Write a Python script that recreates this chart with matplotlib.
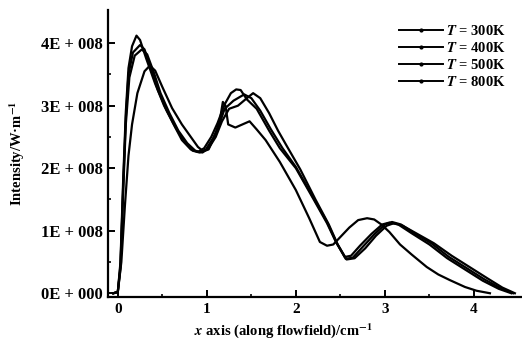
import numpy as np
import matplotlib
matplotlib.use("Agg")
import matplotlib.pyplot as plt
from matplotlib.lines import Line2D

plt.rcParams['font.family'] = ['Liberation Serif', 'DejaVu Serif']
plt.rcParams['font.weight'] = 'bold'
plt.rcParams['mathtext.fontset'] = 'stix'

# curvas (x en cm, intensidad en W/m)
x300 = [-0.05, 0.0, 0.03, 0.06, 0.09, 0.12, 0.16, 0.21, 0.25, 0.32, 0.42, 0.52, 0.62, 0.72, 0.82, 0.9, 0.97,
        1.05, 1.12, 1.2, 1.27, 1.33, 1.38, 1.45, 1.56, 1.7, 1.82, 2.0, 2.2, 2.35, 2.45, 2.55, 2.62, 2.72, 2.85,
        2.97, 3.05, 3.15, 3.3, 3.5, 3.7, 3.9, 4.1, 4.28, 4.42]
y300 = [0.0, 0.02, 0.5, 1.8, 2.9, 3.6, 3.95, 4.12, 4.05, 3.75, 3.35, 3.0, 2.72, 2.45, 2.3, 2.26, 2.32,
        2.5, 2.72, 3.02, 3.2, 3.26, 3.25, 3.1, 2.95, 2.6, 2.32, 2.0, 1.5, 1.12, 0.82, 0.58, 0.6, 0.76, 0.95,
        1.1, 1.13, 1.1, 0.96, 0.78, 0.56, 0.38, 0.2, 0.07, 0.0]

x400 = [-0.05, 0.0, 0.03, 0.06, 0.09, 0.12, 0.17, 0.25, 0.3, 0.36, 0.45, 0.55, 0.65, 0.75, 0.84, 0.92, 0.99,
        1.07, 1.14, 1.2, 1.3, 1.42, 1.5, 1.6, 1.72, 1.85, 2.0, 2.2, 2.35, 2.46, 2.56, 2.64, 2.75, 2.88,
        3.0, 3.08, 3.18, 3.32, 3.52, 3.72, 3.92, 4.12, 4.3, 4.44]
y400 = [0.0, 0.02, 0.45, 1.7, 2.8, 3.5, 3.85, 3.97, 3.9, 3.65, 3.25, 2.92, 2.65, 2.42, 2.28, 2.25, 2.3,
        2.48, 2.7, 2.95, 3.08, 3.18, 3.12, 2.92, 2.62, 2.32, 2.02, 1.52, 1.14, 0.8, 0.55, 0.57, 0.74, 0.94,
        1.1, 1.14, 1.1, 0.97, 0.8, 0.58, 0.4, 0.22, 0.08, 0.0]

x500 = [-0.05, 0.0, 0.03, 0.06, 0.09, 0.13, 0.19, 0.27, 0.33, 0.4, 0.48, 0.58, 0.68, 0.78, 0.87, 0.95, 1.02,
        1.1, 1.17, 1.25, 1.35, 1.45, 1.52, 1.6, 1.7, 1.8, 1.9, 2.05, 2.22, 2.37, 2.47, 2.57, 2.66, 2.78, 2.9,
        3.02, 3.1, 3.2, 3.35, 3.55, 3.75, 3.95, 4.15, 4.32, 4.46]
y500 = [0.0, 0.02, 0.4, 1.6, 2.7, 3.45, 3.8, 3.9, 3.82, 3.55, 3.2, 2.88, 2.6, 2.4, 2.28, 2.25, 2.32,
        2.5, 2.75, 2.95, 3.0, 3.12, 3.2, 3.12, 2.88, 2.6, 2.35, 1.98, 1.5, 1.1, 0.78, 0.54, 0.56, 0.72, 0.92,
        1.08, 1.12, 1.08, 0.96, 0.8, 0.6, 0.42, 0.24, 0.09, 0.0]

x800 = [-0.05, 0.0, 0.04, 0.08, 0.12, 0.16, 0.22, 0.3, 0.36, 0.42, 0.5, 0.61, 0.72, 0.83, 0.9, 0.96, 1.02,
        1.1, 1.15, 1.18, 1.21, 1.24, 1.32, 1.4, 1.48, 1.56, 1.66, 1.82, 2.0, 2.15, 2.27, 2.35, 2.42, 2.5,
        2.6, 2.7, 2.8, 2.88, 2.96, 3.05, 3.17, 3.3, 3.47, 3.6, 3.73, 3.9, 4.03, 4.18]
y800 = [0.0, 0.02, 0.5, 1.4, 2.2, 2.7, 3.2, 3.55, 3.64, 3.56, 3.3, 2.96, 2.7, 2.48, 2.34, 2.27, 2.3,
        2.55, 2.8, 3.06, 3.0, 2.7, 2.65, 2.7, 2.75, 2.62, 2.45, 2.1, 1.65, 1.2, 0.82, 0.76, 0.78, 0.9,
        1.05, 1.17, 1.2, 1.18, 1.1, 0.98, 0.78, 0.62, 0.42, 0.3, 0.21, 0.1, 0.04, 0.0]

etiquetas = ['$T$ = 300K', '$T$ = 400K', '$T$ = 500K', '$T$ = 800K']
yticks_txt = ['0E + 000', '1E + 008', '2E + 008', '3E + 008', '4E + 008']
xticks_txt = ['0', '1', '2', '3', '4']

curvas = [(x300, y300), (x400, y400), (x500, y500), (x800, y800)]

fig = plt.figure(figsize=(5.22, 3.48), dpi=100)
ax = fig.add_axes([108 / 522, 1 - 297 / 348, 414 / 522, 287 / 348])

for cx, cy in curvas:
    ax.plot(cx, np.array(cy) * 1e8, color='k', lw=1.6)

ax.set_xlim(-0.11, 4.54)
ax.set_ylim(-0.06e8, 4.53e8)
ax.set_xticks([0, 1, 2, 3, 4])
ax.set_xticks([0.5, 1.5, 2.5, 3.5], minor=True)
ax.set_yticks([0, 1e8, 2e8, 3e8, 4e8])
ax.set_yticks([0.5e8, 1.5e8, 2.5e8, 3.5e8], minor=True)
ax.set_yticklabels(yticks_txt, fontweight='bold', fontsize=12)
ax.set_xticklabels(xticks_txt, fontweight='bold', fontsize=11)
ax.tick_params(direction='in', length=5, width=1.4, pad=4)
ax.tick_params(which='minor', direction='in', length=2, width=1.2)
ax.spines['top'].set_visible(False)
ax.spines['right'].set_visible(False)
ax.spines['left'].set_linewidth(1.6)
ax.spines['bottom'].set_linewidth(1.6)

ax.set_xlabel('$x$ axis (along flowfield)/cm$^{\\mathbf{-1}}$', fontsize=10.5, fontweight='bold')
ax.xaxis.set_label_coords(0.423, -0.085)
ax.set_ylabel('Intensity/W\u00b7m$^{\\mathbf{-1}}$', fontsize=10.5, fontweight='bold')
ax.yaxis.set_label_coords(-0.195, 0.5)

handles = [Line2D([], [], color='k', lw=1.4, marker='.', markersize=4) for _ in etiquetas]
fig.legend(handles, etiquetas, loc='upper right', bbox_to_anchor=(0.985, 0.955), frameon=False,
           prop={'size': 10.5, 'weight': 'bold'}, handlelength=3.0, handletextpad=0.2,
           labelspacing=0.2, numpoints=1, borderpad=0.1)

plt.savefig('out.png', dpi=100)
